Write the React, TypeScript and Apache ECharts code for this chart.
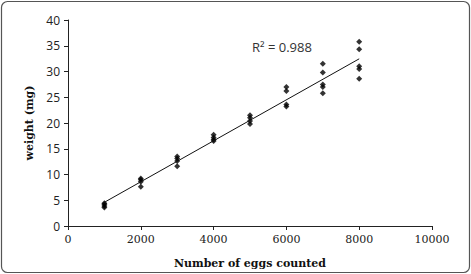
import React, { useEffect, useRef } from "react";
import * as echarts from "echarts";

const eggCounts = [1000, 2000, 3000, 4000, 5000, 6000, 7000, 8000];
const weights1000 = [3.6, 3.9, 4.2, 4.4];
const weights2000 = [7.6, 8.6, 9.0, 9.2];
const weights3000 = [11.6, 12.6, 13.1, 13.5];
const weights4000 = [16.5, 16.8, 17.2, 17.7];
const weights5000 = [19.8, 20.4, 21.0, 21.5];
const weights6000 = [23.2, 23.6, 26.2, 27.0];
const weights7000 = [25.8, 27.0, 27.5, 29.8, 31.5];
const weights8000 = [28.6, 30.5, 31.0, 34.3, 35.8];
const weightGroups = [weights1000, weights2000, weights3000, weights4000, weights5000, weights6000, weights7000, weights8000];
const r2Label = "R² = 0.988";

export default function App() {
  const ref = useRef<HTMLDivElement>(null);
  useEffect(() => {
    document.body.style.margin = "0";
    const chart = echarts.init(ref.current!, undefined, { renderer: "svg" });
    const points: number[][] = [];
    eggCounts.forEach((x, i) => weightGroups[i].forEach((w) => points.push([x, w])));
    const n = points.length;
    const mx = points.reduce((s, p) => s + p[0], 0) / n;
    const my = points.reduce((s, p) => s + p[1], 0) / n;
    let sxy = 0, sxx = 0;
    points.forEach((p) => { sxy += (p[0] - mx) * (p[1] - my); sxx += (p[0] - mx) ** 2; });
    const slope = sxy / sxx;
    const icpt = my - slope * mx;
    const xMin = eggCounts[0], xMax = eggCounts[eggCounts.length - 1];
    const trend = [[xMin, icpt + slope * xMin], [xMax, icpt + slope * xMax]];
    chart.setOption({
      animation: false,
      grid: { left: 68, right: 39, top: 20, bottom: 47 },
      xAxis: {
        type: "value", min: 0, max: 10000, interval: 2000,
        name: "Number of eggs counted", nameLocation: "middle", nameGap: 32,
        nameTextStyle: { fontFamily: "DejaVu Serif", fontWeight: "bold", fontSize: 11, color: "#111" },
        axisLine: { lineStyle: { color: "#222", width: 1 } },
        axisTick: { show: true, length: 4, lineStyle: { color: "#222" } },
        axisLabel: { fontFamily: "DejaVu Serif", fontSize: 11, color: "#222", margin: 8, formatter: (v: number) => String(v) },
        splitLine: { show: false },
      },
      yAxis: {
        type: "value", min: 0, max: 40, interval: 5,
        name: "weight (mg)", nameLocation: "middle", nameGap: 27, nameRotate: 90,
        nameTextStyle: { fontFamily: "DejaVu Serif", fontWeight: "bold", fontSize: 11, color: "#111" },
        axisLine: { show: true, lineStyle: { color: "#222", width: 1 } },
        axisTick: { show: true, length: 4, lineStyle: { color: "#222" } },
        axisLabel: { fontFamily: "Open Sans", fontSize: 12, color: "#222", margin: 8 },
        splitLine: { show: false },
      },
      graphic: [
        { type: "rect", shape: { x: 1.5, y: 1.5, width: 468, height: 271, r: 6 }, style: { fill: "none", stroke: "#555", lineWidth: 1.2 }, silent: true, z: -1 },
        { type: "text", left: 252, top: 40, style: { text: r2Label, font: "13px 'Open Sans'", fill: "#333" } },
      ],
      series: [
        { type: "scatter", data: points, symbol: "diamond", symbolSize: 6, itemStyle: { color: "#000" } },
        { type: "line", data: trend, symbol: "none", lineStyle: { color: "#111", width: 1 } },
      ],
    });
    return () => chart.dispose();
  }, []);
  return <div ref={ref} style={{ width: 471, height: 274 }} />;
}
